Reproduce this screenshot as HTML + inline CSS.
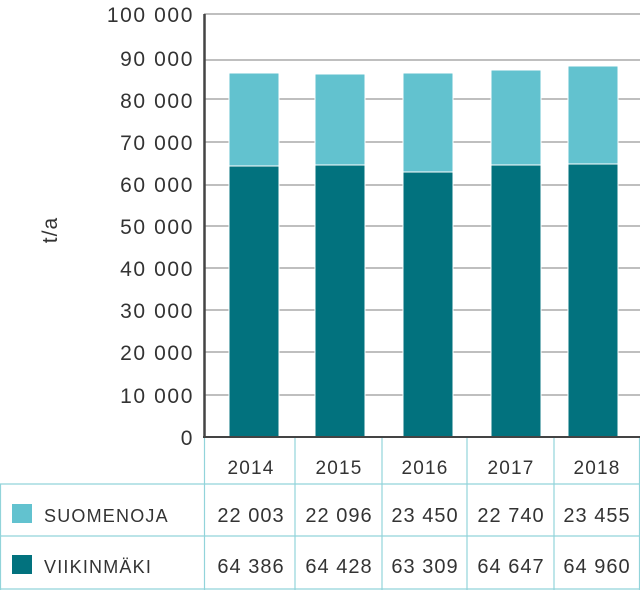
<!DOCTYPE html>
<html><head><style>
body{margin:0;background:#fff;}
svg text{font-family:"Liberation Sans",sans-serif;fill:#333;}
</style></head><body>
<svg width="640" height="590" viewBox="0 0 640 590" xmlns="http://www.w3.org/2000/svg">
<g stroke="#aaa" stroke-width="1.5">
<line x1="204" y1="14" x2="640" y2="14"/>
<line x1="204" y1="60" x2="640" y2="60"/>
<line x1="204" y1="99" x2="640" y2="99"/>
<line x1="204" y1="142" x2="640" y2="142"/>
<line x1="204" y1="185" x2="640" y2="185"/>
<line x1="204" y1="226" x2="640" y2="226"/>
<line x1="204" y1="268" x2="640" y2="268"/>
<line x1="204" y1="310" x2="640" y2="310"/>
<line x1="204" y1="352" x2="640" y2="352"/>
<line x1="204" y1="395" x2="640" y2="395"/>
</g>
<g font-size="21" text-anchor="end" letter-spacing="1.6">
<text x="194" y="22">100 000</text>
<text x="194" y="66">90 000</text>
<text x="194" y="108">80 000</text>
<text x="194" y="150">70 000</text>
<text x="194" y="192">60 000</text>
<text x="194" y="234">50 000</text>
<text x="194" y="276">40 000</text>
<text x="194" y="318">30 000</text>
<text x="194" y="360">20 000</text>
<text x="194" y="403">10 000</text>
<text x="194" y="445">0</text>
</g>
<text x="57" y="230" font-size="21" text-anchor="middle" letter-spacing="1" transform="rotate(-90 57 230)">t/a</text>
<g stroke="#fff" stroke-width="1">
<rect x="229" y="73" width="50" height="94" fill="#62c2cf"/>
<rect x="229" y="166" width="50" height="271" fill="#02727e"/>
<rect x="315" y="74" width="50" height="92" fill="#62c2cf"/>
<rect x="315" y="165" width="50" height="272" fill="#02727e"/>
<rect x="403" y="73" width="50" height="100" fill="#62c2cf"/>
<rect x="403" y="172" width="50" height="265" fill="#02727e"/>
<rect x="491" y="70" width="50" height="96" fill="#62c2cf"/>
<rect x="491" y="165" width="50" height="272" fill="#02727e"/>
<rect x="568" y="66" width="50" height="99" fill="#62c2cf"/>
<rect x="568" y="164" width="50" height="273" fill="#02727e"/>
</g>
<line x1="204.5" y1="14" x2="204.5" y2="438" stroke="#444" stroke-width="2.5"/>
<line x1="203" y1="437" x2="640" y2="437" stroke="#444" stroke-width="2"/>
<g stroke="#92d4da" stroke-width="1.2">
<line x1="0" y1="484" x2="640" y2="484"/>
<line x1="0" y1="536" x2="640" y2="536"/>
<line x1="0" y1="589" x2="640" y2="589"/>
<line x1="0.5" y1="484" x2="0.5" y2="590"/>
<line x1="204.5" y1="438" x2="204.5" y2="590"/>
<line x1="295" y1="438" x2="295" y2="590"/>
<line x1="382" y1="438" x2="382" y2="590"/>
<line x1="467" y1="438" x2="467" y2="590"/>
<line x1="554" y1="438" x2="554" y2="590"/>
<line x1="639.5" y1="438" x2="639.5" y2="590"/>
</g>
<g font-size="19" text-anchor="middle" letter-spacing="1.2">
<text x="251" y="474">2014</text>
<text x="339" y="474">2015</text>
<text x="425" y="474">2016</text>
<text x="511" y="474">2017</text>
<text x="597" y="474">2018</text>
</g>
<rect x="12" y="504" width="20" height="19" fill="#62c2cf"/>
<rect x="12" y="555" width="20" height="19" fill="#02727e"/>
<text x="44" y="522" font-size="18" letter-spacing="1.2">SUOMENOJA</text>
<text x="44" y="573" font-size="18" letter-spacing="1.2">VIIKINMÄKI</text>
<g font-size="20" text-anchor="middle" letter-spacing="1">
<text x="251" y="522">22 003</text>
<text x="339" y="522">22 096</text>
<text x="425" y="522">23 450</text>
<text x="511" y="522">22 740</text>
<text x="597" y="522">23 455</text>
<text x="251" y="573">64 386</text>
<text x="339" y="573">64 428</text>
<text x="425" y="573">63 309</text>
<text x="511" y="573">64 647</text>
<text x="597" y="573">64 960</text>
</g>
</svg>
</body></html>
